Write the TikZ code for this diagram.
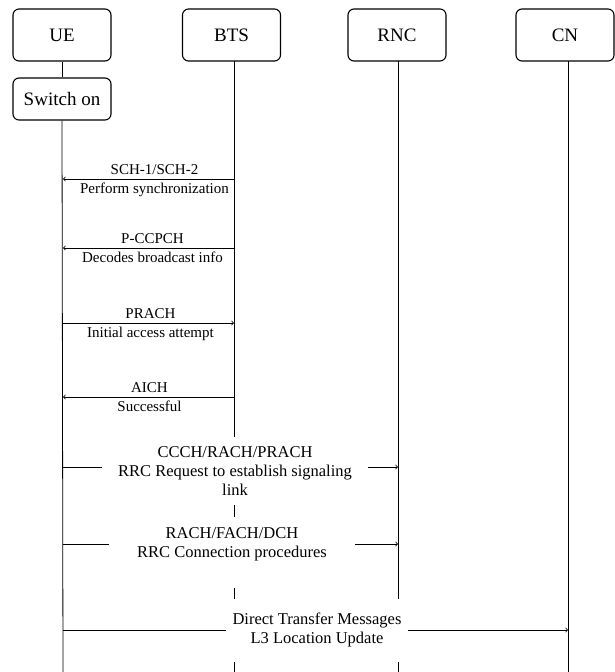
\documentclass[tikz,border=0pt]{standalone}
\usepackage{fontspec}
\setmainfont{Liberation Serif}
\begin{document}
\begin{tikzpicture}[x=1pt,y=-1pt,
  head/.style={draw, rounded corners=6pt, line width=1.1pt, minimum width=98pt,
    minimum height=52pt, inner sep=0pt, font=\fontsize{19}{22}\selectfont},
  life/.style={line width=0.8pt},
  msg/.style={->, line width=0.8pt},
  lab/.style={inner sep=0pt, anchor=base, font=\fontsize{15}{17}\selectfont},
  blab/.style={fill=white, align=center, inner sep=0pt,
    font=\fontsize{16.5}{19}\selectfont}]
\useasboundingbox (0,0) rectangle (614,672);
% header boxes
\node[head] (ue) at (62,35) {UE};
\node[head] (bts) at (231.5,35) {BTS};
\node[head] (rnc) at (397,35) {RNC};
\node[head] (cn) at (565,35) {CN};
\node[head, minimum height=42pt] (sw) at (62,99) {Switch on};
% lifeline ends
\coordinate (btsT) at (234,61);  \coordinate (btsB) at (234,672);
\coordinate (rncT) at (398,61);  \coordinate (rncB) at (398,672);
\coordinate (cnT) at (568,61);   \coordinate (cnB) at (568,672);
\coordinate (ueB) at (63,672);
\draw[life] (ue.south) -- (sw.north);
\draw[life] (sw.south) -- (ueB);
\draw[life] (btsT) -- (btsB);
\draw[life] (rncT) -- (rncB);
\draw[life] (cnT) -- (cnB);
% message points
\coordinate (u1) at (63,179);  \coordinate (b1) at (234,179);
\coordinate (u2) at (63,248);  \coordinate (b2) at (234,248);
\coordinate (u3) at (63,323);  \coordinate (b3) at (234,323);
\coordinate (u4) at (63,397);  \coordinate (b4) at (234,397);
\coordinate (u5) at (63,467);  \coordinate (r5) at (398,467);
\coordinate (u6) at (63,544);  \coordinate (r6) at (398,544);
\coordinate (u7) at (63,630);  \coordinate (c7) at (568,630);
% messages
\draw[msg] (b1) -- node[lab, midway, xshift=6pt, yshift=4.5pt] {SCH-1/SCH-2}
  node[lab, midway, xshift=6pt, yshift=-14pt] {Perform synchronization} (u1);
\draw[msg] (b2) -- node[lab, midway, xshift=4pt, yshift=4.5pt] {P-CCPCH}
  node[lab, midway, xshift=4pt, yshift=-14pt] {Decodes broadcast info} (u2);
\draw[msg] (u3) -- node[lab, midway, xshift=2pt, yshift=4.5pt] {PRACH}
  node[lab, midway, xshift=2pt, yshift=-14pt] {Initial access attempt} (b3);
\draw[msg] (b4) -- node[lab, midway, xshift=1pt, yshift=4.5pt] {AICH}
  node[lab, midway, xshift=1pt, yshift=-14.5pt] {Successful} (u4);
\draw[msg] (u5) -- node[blab, midway, xshift=4.5pt, yshift=-4pt,
    minimum width=266pt, minimum height=68pt]
  {CCCH/RACH/PRACH\\RRC Request to establish signaling\\link} (r5);
\draw[msg] (u6) -- node[blab, midway, xshift=1.5pt, yshift=-8.5pt,
    minimum width=246pt, minimum height=71pt]
  {RACH/FACH/DCH\\RRC Connection procedures\\\mbox{}} (r6);
\draw[msg] (u7) -- node[blab, midway, xshift=1.5pt, yshift=0pt,
    minimum width=182pt, minimum height=63pt]
  {Direct Transfer Messages\\L3 Location Update} (c7);
\end{tikzpicture}
\end{document}
